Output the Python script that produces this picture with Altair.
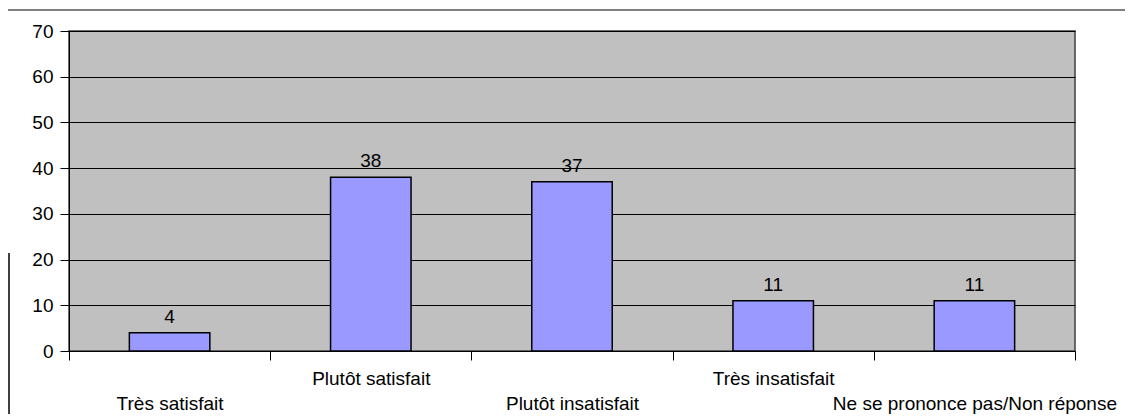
import altair as alt
import pandas as pd
import json

categories = ["Très satisfait", "Plutôt satisfait", "Plutôt insatisfait", "Très insatisfait", "Ne se prononce pas/Non réponse"]
values = [4, 38, 37, 11, 11]
y_ticks = [0, 10, 20, 30, 40, 50, 60, 70]

df = pd.DataFrame({"cat": categories, "val": values})
FONT = "Liberation Sans"
FS = 19
W, H = 1006, 320

cat_js = json.dumps(categories, ensure_ascii=False)
label_expr = f"indexof({cat_js}, datum.value) % 2 == 0 ? ['', datum.label] : datum.label"

x = alt.X("cat:N", sort=categories, title=None,
          scale=alt.Scale(paddingInner=0, paddingOuter=0),
          axis=alt.Axis(labelAngle=0, tickBand="extent", grid=False, domainColor="black",
                        tickColor="black", tickSize=9, labelFont=FONT, labelFontSize=FS,
                        labelColor="black", labelPadding=9, labelLineHeight=25,
                        labelExpr=label_expr, labelLimit=400))
y = alt.Y("val:Q", title=None,
          scale=alt.Scale(domain=[0, 70], nice=False),
          axis=alt.Axis(values=y_ticks, grid=True, gridColor="black", gridWidth=1,
                        domainColor="black", tickColor="black", tickSize=9,
                        labelFont=FONT, labelFontSize=FS, labelColor="black", labelPadding=7))

bars = alt.Chart(df).mark_bar(width={"band": 0.4}, color="#9999ff", stroke="black",
                              strokeWidth=1.5).encode(x=x, y=y)
labels = alt.Chart(df).mark_text(baseline="alphabetic", dy=-10, font=FONT, fontSize=FS,
                                 color="black").encode(
    x=alt.X("cat:N", sort=categories), y="val:Q", text="val:Q")

frame_top = alt.Chart(df).mark_rule(color="#808080", strokeWidth=2).encode(
    x=alt.value(-63), x2=alt.value(1066), y=alt.value(-21))
frame_left = alt.Chart(df).mark_rule(color="#404040", strokeWidth=1.5).encode(
    x=alt.value(-60), y=alt.value(222), y2=alt.value(390))

chart = alt.layer(bars, labels, frame_top, frame_left).properties(
    width=W, height=H,
    autosize=alt.AutoSizeParams(type="none"),
    padding={"left": 61, "top": 23, "right": 50, "bottom": 63},
    background="white",
).configure_view(fill="#c0c0c0", stroke="#404040", strokeWidth=1.5)

chart.save("out.html", embed_options={"renderer": "svg", "actions": False})
